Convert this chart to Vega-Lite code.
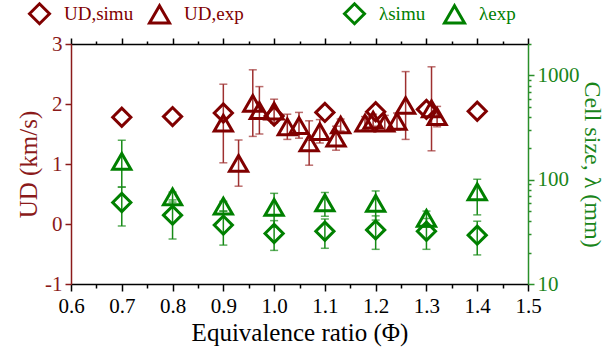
{
  "$schema": "https://vega.github.io/schema/vega-lite/v6.json",
  "width": 457,
  "height": 240,
  "autosize": {"type": "none"},
  "padding": {"left": 71, "top": 44, "right": 80, "bottom": 67},
  "background": "white",
  "config": {
    "view": {"stroke": null},
    "font": "Liberation Serif",
    "axis": {
      "grid": false,
      "labelFont": "Liberation Serif",
      "titleFont": "Liberation Serif",
      "labelFontSize": 21,
      "titleFontSize": 25,
      "titleFontWeight": "normal",
      "labelOverlap": false,
      "labelFlush": false,
      "tickWidth": 1.5,
      "domainWidth": 1.5
    },
    "legend": {"labelFont": "Liberation Serif"}
  },
  "datasets": {
    "ud": [
      {"series": "UD,simu", "phi": 0.7, "v": 1.78},
      {"series": "UD,simu", "phi": 0.8, "v": 1.79},
      {"series": "UD,simu", "phi": 0.9, "v": 1.85},
      {"series": "UD,simu", "phi": 1.0, "v": 1.80},
      {"series": "UD,simu", "phi": 1.1, "v": 1.86},
      {"series": "UD,simu", "phi": 1.2, "v": 1.87},
      {"series": "UD,simu", "phi": 1.3, "v": 1.91},
      {"series": "UD,simu", "phi": 1.4, "v": 1.88},
      {"series": "UD,exp", "phi": 0.9, "v": 1.68, "lo": 1.02, "hi": 2.33},
      {"series": "UD,exp", "phi": 0.93, "v": 1.01, "lo": 0.63, "hi": 1.40},
      {"series": "UD,exp", "phi": 0.958, "v": 2.01, "lo": 1.46, "hi": 2.57},
      {"series": "UD,exp", "phi": 0.971, "v": 1.89, "lo": 1.50, "hi": 2.29},
      {"series": "UD,exp", "phi": 1.0, "v": 1.88, "lo": 1.68, "hi": 2.08},
      {"series": "UD,exp", "phi": 1.026, "v": 1.62, "lo": 1.41, "hi": 1.83},
      {"series": "UD,exp", "phi": 1.049, "v": 1.64, "lo": 1.43, "hi": 1.86},
      {"series": "UD,exp", "phi": 1.069, "v": 1.35, "lo": 0.98, "hi": 1.72},
      {"series": "UD,exp", "phi": 1.09, "v": 1.54, "lo": 1.35, "hi": 1.74},
      {"series": "UD,exp", "phi": 1.122, "v": 1.43, "lo": 1.23, "hi": 1.63},
      {"series": "UD,exp", "phi": 1.131, "v": 1.65, "lo": 1.55, "hi": 1.75},
      {"series": "UD,exp", "phi": 1.179, "v": 1.68, "lo": 1.57, "hi": 1.79},
      {"series": "UD,exp", "phi": 1.195, "v": 1.73, "lo": 1.63, "hi": 1.83},
      {"series": "UD,exp", "phi": 1.218, "v": 1.68, "lo": 1.55, "hi": 1.81},
      {"series": "UD,exp", "phi": 1.242, "v": 1.71, "lo": 1.57, "hi": 1.85},
      {"series": "UD,exp", "phi": 1.259, "v": 1.975, "lo": 1.41, "hi": 2.54},
      {"series": "UD,exp", "phi": 1.31, "v": 1.92, "lo": 1.22, "hi": 2.62},
      {"series": "UD,exp", "phi": 1.321, "v": 1.79, "lo": 1.62, "hi": 1.96}
    ],
    "lam": [
      {"series": "λsimu", "phi": 0.7, "v": 60.5, "lo": 36, "hi": 85},
      {"series": "λsimu", "phi": 0.8, "v": 45.7, "lo": 27, "hi": 64},
      {"series": "λsimu", "phi": 0.9, "v": 36.7, "lo": 23.6, "hi": 50},
      {"series": "λsimu", "phi": 1.0, "v": 30.5, "lo": 21, "hi": 40.5},
      {"series": "λsimu", "phi": 1.1, "v": 32, "lo": 22, "hi": 42},
      {"series": "λsimu", "phi": 1.2, "v": 33, "lo": 21.5, "hi": 45},
      {"series": "λsimu", "phi": 1.3, "v": 32, "lo": 21.5, "hi": 42.5},
      {"series": "λsimu", "phi": 1.4, "v": 29.4, "lo": 19, "hi": 40},
      {"series": "λexp", "phi": 0.7, "v": 150, "lo": 85, "hi": 239},
      {"series": "λexp", "phi": 0.8, "v": 68.5, "lo": 61, "hi": 76},
      {"series": "λexp", "phi": 0.9, "v": 55.7, "lo": 50, "hi": 62},
      {"series": "λexp", "phi": 1.0, "v": 54.2, "lo": 35, "hi": 74},
      {"series": "λexp", "phi": 1.1, "v": 60, "lo": 44.6, "hi": 75.4},
      {"series": "λexp", "phi": 1.2, "v": 59.2, "lo": 41, "hi": 78},
      {"series": "λexp", "phi": 1.3, "v": 42.6, "lo": 35, "hi": 50},
      {"series": "λexp", "phi": 1.4, "v": 76.4, "lo": 46, "hi": 101}
    ]
  },
  "layer": [
    {
      "data": {"name": "ud"},
      "encoding": {
        "x": {
          "field": "phi",
          "type": "quantitative",
          "scale": {"domain": [0.6, 1.5], "nice": false, "zero": false},
          "axis": {
            "orient": "bottom",
            "values": [0.6, 0.65, 0.7, 0.75, 0.8, 0.85, 0.9, 0.95, 1.0, 1.05, 1.1, 1.15, 1.2, 1.25, 1.3, 1.35, 1.4, 1.45, 1.5],
            "labelExpr": "round(datum.value*100)%10==0 ? format(datum.value,'.1f') : ''",
            "tickSize": {"condition": {"test": "round(datum.value*100)%10!=0", "value": 4}, "value": 7},
            "tickColor": "black",
            "domainColor": "black",
            "labelColor": "black",
            "titleColor": "black",
            "labelPadding": 4,
            "titlePadding": 4,
            "title": "Equivalence ratio (Φ)"
          }
        }
      },
      "layer": [
        {
          "transform": [{"filter": "isValid(datum.lo)"}],
          "mark": {"type": "errorbar", "color": "#9e3030", "ticks": {"size": 8, "thickness": 1.5}, "rule": {"strokeWidth": 1.5}},
          "encoding": {
            "y": {"field": "lo", "type": "quantitative", "title": "UD (km/s)", "scale": {"domain": [-1, 3], "nice": false, "zero": false}},
            "y2": {"field": "hi"}
          }
        },
        {
          "mark": {"type": "point", "filled": false, "stroke": "#800000", "strokeWidth": 3, "opacity": 1, "size": 330},
          "encoding": {
            "y": {
              "field": "v",
              "type": "quantitative",
              "title": "UD (km/s)",
              "scale": {"domain": [-1, 3], "nice": false, "zero": false},
              "axis": {
                "orient": "left",
                "values": [-1, -0.5, 0, 0.5, 1, 1.5, 2, 2.5, 3],
                "labelExpr": "datum.value%1==0 ? ''+datum.value : ''",
                "tickSize": {"condition": {"test": "datum.value%1!=0", "value": 3}, "value": 6},
                "tickColor": "#8b1a1a",
                "domainColor": "#8b1a1a",
                "labelColor": "#8b1a1a",
                "titleColor": "#8b1a1a",
                "labelPadding": 3,
                "titlePadding": 3
              }
            },
            "shape": {
              "field": "series",
              "type": "nominal",
              "scale": {"domain": ["UD,simu", "UD,exp"], "range": ["diamond", "triangle-up"]},
              "legend": {
                "orient": "none",
                "legendX": -43,
                "legendY": -42,
                "direction": "horizontal",
                "title": null,
                "symbolStrokeColor": "#800000",
                "symbolFillColor": "transparent",
                "symbolStrokeWidth": 3,
                "symbolSize": 400,
                "labelColor": "#800000",
                "labelFontSize": 19,
                "labelOffset": 13,
                "columnPadding": 9,
                "padding": 0
              }
            }
          }
        }
      ]
    },
    {
      "data": {"name": "lam"},
      "encoding": {
        "x": {
          "field": "phi",
          "type": "quantitative",
          "scale": {"domain": [0.6, 1.5], "nice": false, "zero": false},
          "axis": {
            "orient": "top",
            "values": [0.6, 0.65, 0.7, 0.75, 0.8, 0.85, 0.9, 0.95, 1.0, 1.05, 1.1, 1.15, 1.2, 1.25, 1.3, 1.35, 1.4, 1.45, 1.5],
            "labels": false,
            "tickSize": {"condition": {"test": "round(datum.value*100)%10!=0", "value": 3}, "value": 6},
            "tickColor": "black",
            "domainColor": "black",
            "title": null
          }
        }
      },
      "layer": [
        {
          "mark": {"type": "errorbar", "color": "#168a16", "ticks": {"size": 8, "thickness": 1.5}, "rule": {"strokeWidth": 1.5}},
          "encoding": {
            "y": {"field": "lo", "type": "quantitative", "title": "Cell size, λ (mm)", "scale": {"type": "log", "domain": [10, 2000], "nice": false}},
            "y2": {"field": "hi"}
          }
        },
        {
          "mark": {"type": "point", "filled": false, "stroke": "#008000", "strokeWidth": 3, "opacity": 1, "size": 330},
          "encoding": {
            "y": {
              "field": "v",
              "type": "quantitative",
              "title": "Cell size, λ (mm)",
              "scale": {"type": "log", "domain": [10, 2000], "nice": false},
              "axis": {
                "orient": "right",
                "values": [10, 20, 30, 40, 50, 60, 70, 80, 90, 100, 200, 300, 400, 500, 600, 700, 800, 900, 1000, 2000],
                "labelExpr": "indexof([10,100,1000], datum.value) >= 0 ? ''+datum.value : ''",
                "tickSize": {"condition": {"test": "indexof([10,100,1000], datum.value) < 0", "value": 3}, "value": 6},
                "tickColor": "#2a8f2a",
                "domainColor": "#2a8f2a",
                "labelColor": "#1a851a",
                "titleColor": "#1a851a",
                "titleFontSize": 24,
                "labelPadding": 3,
                "titlePadding": 0
              }
            },
            "shape": {
              "field": "series",
              "type": "nominal",
              "scale": {"domain": ["λsimu", "λexp"], "range": ["diamond", "triangle-up"]},
              "legend": {
                "orient": "none",
                "legendX": 272,
                "legendY": -42,
                "direction": "horizontal",
                "title": null,
                "symbolStrokeColor": "#008000",
                "symbolFillColor": "transparent",
                "symbolStrokeWidth": 3,
                "symbolSize": 400,
                "labelColor": "#008000",
                "labelFontSize": 19,
                "labelOffset": 13,
                "columnPadding": 12,
                "padding": 0
              }
            }
          }
        }
      ]
    }
  ],
  "resolve": {
    "scale": {"y": "independent", "shape": "independent"},
    "axis": {"x": "independent"},
    "legend": {"shape": "independent"}
  }
}
